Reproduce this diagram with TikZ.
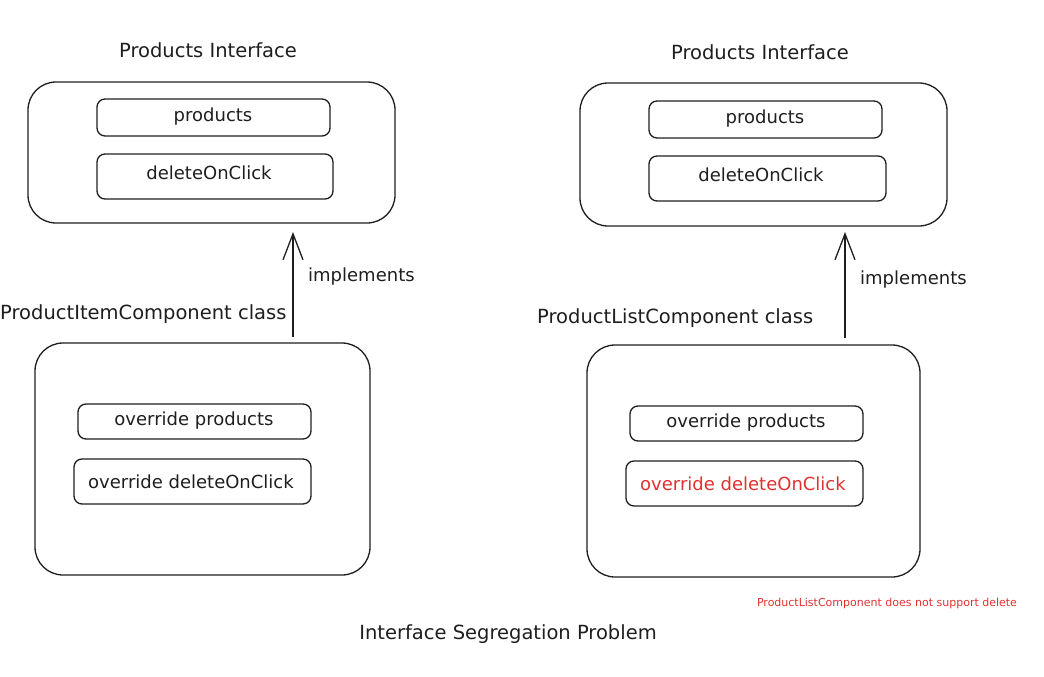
\documentclass[tikz,border=0pt]{standalone}
\usepackage{fontspec}
\setmainfont{DejaVu Sans}
\usetikzlibrary{arrows.meta}
\definecolor{ink}{HTML}{1E1E1E}
\definecolor{exred}{HTML}{E03131}
\tikzset{
  outerbox/.style={draw=ink, line width=1.3pt, rounded corners=28pt},
  innerbox/.style={draw=ink, line width=1.3pt, rounded corners=8pt},
  lbl/.style={text=ink, font=\fontsize{18}{21}\selectfont, inner sep=0pt},
  ttl/.style={text=ink, font=\fontsize{19.5}{23}\selectfont, inner sep=0pt},
  redlbl/.style={text=exred, font=\fontsize{18}{21}\selectfont, inner sep=0pt},
  note/.style={text=exred, font=\fontsize{11}{13}\selectfont, inner sep=0pt},
  impl/.style={draw=ink, line width=1.3pt, -{Straight Barb[length=26pt,width=20pt,line width=1.3pt]}},
}
\begin{document}
\begin{tikzpicture}[x=1pt,y=-1pt]
\useasboundingbox (0,0) rectangle (1044,677);
% ---------- left top interface ----------
\node[ttl] (t1) at (208,50) {Products Interface};
\draw[outerbox] (28,82) rectangle (395,223);
\coordinate (i1b) at (293,232);
\draw[innerbox] (97,99) rectangle (330,136);
\node[lbl] (p1) at (213,117) {products};
\draw[innerbox] (97,154) rectangle (333,199);
\node[lbl] (d1) at (209,173) {deleteOnClick};
% ---------- right top interface ----------
\node[ttl] (t2) at (760,52) {Products Interface};
\draw[outerbox] (580,83) rectangle (947,226);
\coordinate (i2b) at (845,232);
\draw[innerbox] (649,101) rectangle (882,138);
\node[lbl] (p2) at (765,119) {products};
\draw[innerbox] (649,156) rectangle (886,201);
\node[lbl] (d2) at (761,175) {deleteOnClick};
% ---------- left bottom class ----------
\node[ttl, anchor=west] (c1) at (0,314) {ProductItemComponent class};
\draw[outerbox] (35,343) rectangle (370,575);
\coordinate (c1t) at (293,337);
\draw[innerbox] (78,404) rectangle (311,439);
\node[lbl] (op1) at (194,421) {override products};
\draw[innerbox] (74,459) rectangle (311,504);
\node[lbl] (od1) at (191,482) {override deleteOnClick};
% ---------- right bottom class ----------
\node[ttl, anchor=west] (c2) at (537,318) {ProductListComponent class};
\draw[outerbox] (587,345) rectangle (920,577);
\coordinate (c2t) at (845,338);
\draw[innerbox] (630,406) rectangle (863,441);
\node[lbl] (op2) at (746,423) {override products};
\draw[innerbox] (626,461) rectangle (863,506);
\node[redlbl] (od2) at (743,484) {override deleteOnClick};
% ---------- arrows ----------
\draw[impl] (c1t) -- (i1b);
\node[lbl, anchor=west] (m1) at (308,277) {implements};
\draw[impl] (c2t) -- (i2b);
\node[lbl, anchor=west] (m2) at (860,280) {implements};
% ---------- notes ----------
\node[note] (n1) at (887,603) {ProductListComponent does not support delete};
\node[ttl] (cap) at (508,634) {Interface Segregation Problem};
\end{tikzpicture}
\end{document}
